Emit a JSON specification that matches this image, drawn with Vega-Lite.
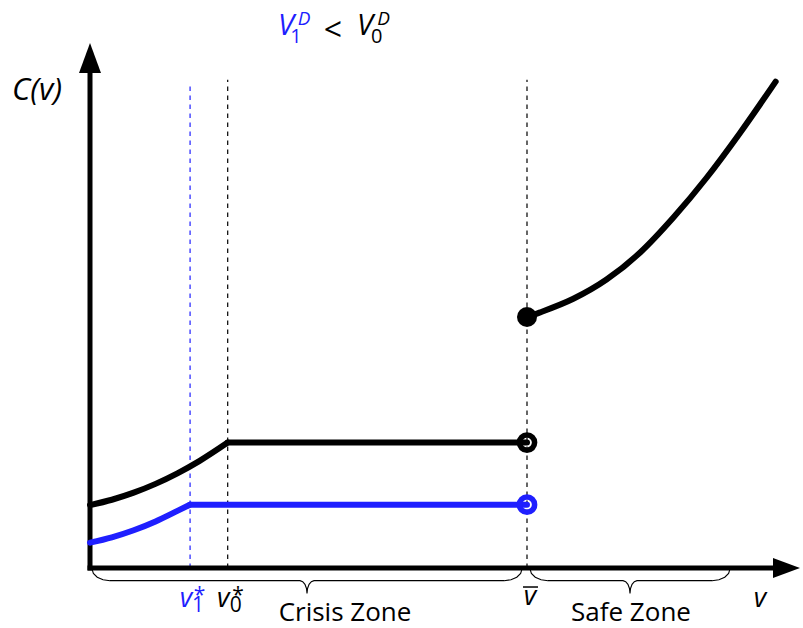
{
  "$schema": "https://vega.github.io/schema/vega-lite/v6.json",
  "width": 803,
  "height": 628,
  "autosize": {"type": "fit", "contains": "padding"},
  "padding": 0,
  "background": "white",
  "config": {"view": {"stroke": null}},
  "encoding": {
    "x": {"field": "x", "type": "quantitative", "scale": {"domain": [-2.0595, 16.3158], "nice": false, "zero": false}, "axis": null},
    "y": {"field": "y", "type": "quantitative", "scale": {"domain": [-1.373, 12.9977], "nice": false, "zero": false}, "axis": null},
    "color": {"field": "s", "type": "nominal", "scale": {"domain": ["k", "b"], "range": ["#000000", "#1f1fff"]}, "legend": null}
  },
  "layer": [
    {
      "data": {"values": [
        {"x": 2.29, "y": 0, "y2": 11.08, "s": "b"},
        {"x": 3.151, "y": 0, "y2": 11.17, "s": "k"},
        {"x": 10, "y": 0, "y2": 11.17, "s": "k"}
      ]},
      "mark": {"type": "rule", "strokeDash": [4.5, 4.5], "strokeWidth": 1.2},
      "encoding": {"y2": {"field": "y2"}}
    },
    {
      "data": {"values": [
        {"x": 0, "y": 0, "x2": 15.7, "y2": 0, "s": "k"},
        {"x": 0, "y": 0, "x2": 0, "y2": 11.33, "s": "k"}
      ]},
      "mark": {"type": "rule", "strokeWidth": 5, "strokeCap": "square"},
      "encoding": {"x2": {"field": "x2"}, "y2": {"field": "y2"}}
    },
    {
      "data": {"values": [{"x": 15.938, "y": 0, "s": "k"}]},
      "mark": {"type": "point", "shape": "M1,0L-1,0.74L-1,-0.74Z", "size": 729, "filled": true, "opacity": 1, "strokeWidth": 0}
    },
    {
      "data": {"values": [{"x": 0, "y": 11.67, "s": "k"}]},
      "mark": {"type": "point", "shape": "M0,-1L0.733,1L-0.733,1Z", "size": 900, "filled": true, "opacity": 1, "strokeWidth": 0}
    },
    {
      "data": {"values": [
        {"g": "k1", "s": "k", "x": 0, "y": 1.44},
        {"g": "k1", "s": "k", "x": 0.5, "y": 1.562},
        {"g": "k1", "s": "k", "x": 1, "y": 1.724},
        {"g": "k1", "s": "k", "x": 1.5, "y": 1.925},
        {"g": "k1", "s": "k", "x": 2, "y": 2.166},
        {"g": "k1", "s": "k", "x": 2.5, "y": 2.446},
        {"g": "k1", "s": "k", "x": 3.151, "y": 2.87},
        {"g": "k2", "s": "k", "x": 3.151, "y": 2.87},
        {"g": "k2", "s": "k", "x": 10, "y": 2.87},
        {"g": "b1", "s": "b", "x": 0, "y": 0.579},
        {"g": "b1", "s": "b", "x": 0.5, "y": 0.701},
        {"g": "b1", "s": "b", "x": 1, "y": 0.863},
        {"g": "b1", "s": "b", "x": 1.5, "y": 1.065},
        {"g": "b1", "s": "b", "x": 2, "y": 1.306},
        {"g": "b1", "s": "b", "x": 2.29, "y": 1.45},
        {"g": "b2", "s": "b", "x": 2.29, "y": 1.45},
        {"g": "b2", "s": "b", "x": 10, "y": 1.45},
        {"g": "u", "s": "k", "x": 10, "y": 5.744},
        {"g": "u", "s": "k", "x": 10.3, "y": 5.85},
        {"g": "u", "s": "k", "x": 11.06, "y": 6.16},
        {"g": "u", "s": "k", "x": 11.82, "y": 6.6},
        {"g": "u", "s": "k", "x": 12.59, "y": 7.22},
        {"g": "u", "s": "k", "x": 13.35, "y": 8.02},
        {"g": "u", "s": "k", "x": 14.11, "y": 8.93},
        {"g": "u", "s": "k", "x": 14.87, "y": 9.95},
        {"g": "u", "s": "k", "x": 15.69, "y": 11.13}
      ]},
      "mark": {"type": "line", "interpolate": "monotone", "strokeWidth": 6, "strokeCap": "round", "strokeJoin": "round"},
      "encoding": {"detail": {"field": "g"}}
    },
    {
      "data": {"values": [{"x": 10, "y": 5.744, "s": "k"}]},
      "mark": {"type": "point", "shape": "circle", "size": 400, "filled": true, "opacity": 1, "strokeWidth": 0}
    },
    {
      "data": {"values": [
        {"x": 10, "y": 2.87, "s": "k"},
        {"x": 10, "y": 1.45, "s": "b"}
      ]},
      "mark": {"type": "point", "shape": "circle", "size": 232, "filled": false, "opacity": 1, "strokeWidth": 5.5}
    },
    {
      "data": {"values": [
        {"g": "c", "i": 1, "s": "k", "x": 0.046, "y": -0.02},
        {"g": "c", "i": 2, "s": "k", "x": 0.077, "y": -0.123},
        {"g": "c", "i": 3, "s": "k", "x": 0.166, "y": -0.211},
        {"g": "c", "i": 4, "s": "k", "x": 0.299, "y": -0.269},
        {"g": "c", "i": 5, "s": "k", "x": 0.456, "y": -0.29},
        {"g": "c", "i": 6, "s": "k", "x": 4.806, "y": -0.29},
        {"g": "c", "i": 7, "s": "k", "x": 4.867, "y": -0.312},
        {"g": "c", "i": 8, "s": "k", "x": 4.919, "y": -0.375},
        {"g": "c", "i": 9, "s": "k", "x": 4.954, "y": -0.469},
        {"g": "c", "i": 10, "s": "k", "x": 4.966, "y": -0.58},
        {"g": "c", "i": 11, "s": "k", "x": 4.978, "y": -0.469},
        {"g": "c", "i": 12, "s": "k", "x": 5.013, "y": -0.375},
        {"g": "c", "i": 13, "s": "k", "x": 5.065, "y": -0.312},
        {"g": "c", "i": 14, "s": "k", "x": 5.126, "y": -0.29},
        {"g": "c", "i": 15, "s": "k", "x": 9.476, "y": -0.29},
        {"g": "c", "i": 16, "s": "k", "x": 9.633, "y": -0.269},
        {"g": "c", "i": 17, "s": "k", "x": 9.766, "y": -0.211},
        {"g": "c", "i": 18, "s": "k", "x": 9.855, "y": -0.123},
        {"g": "c", "i": 19, "s": "k", "x": 9.886, "y": -0.02},
        {"g": "f", "i": 1, "s": "k", "x": 10.069, "y": -0.02},
        {"g": "f", "i": 2, "s": "k", "x": 10.1, "y": -0.123},
        {"g": "f", "i": 3, "s": "k", "x": 10.189, "y": -0.211},
        {"g": "f", "i": 4, "s": "k", "x": 10.322, "y": -0.269},
        {"g": "f", "i": 5, "s": "k", "x": 10.479, "y": -0.29},
        {"g": "f", "i": 6, "s": "k", "x": 12.197, "y": -0.29},
        {"g": "f", "i": 7, "s": "k", "x": 12.258, "y": -0.312},
        {"g": "f", "i": 8, "s": "k", "x": 12.31, "y": -0.375},
        {"g": "f", "i": 9, "s": "k", "x": 12.345, "y": -0.469},
        {"g": "f", "i": 10, "s": "k", "x": 12.357, "y": -0.58},
        {"g": "f", "i": 11, "s": "k", "x": 12.369, "y": -0.469},
        {"g": "f", "i": 12, "s": "k", "x": 12.404, "y": -0.375},
        {"g": "f", "i": 13, "s": "k", "x": 12.456, "y": -0.312},
        {"g": "f", "i": 14, "s": "k", "x": 12.517, "y": -0.29},
        {"g": "f", "i": 15, "s": "k", "x": 14.235, "y": -0.29},
        {"g": "f", "i": 16, "s": "k", "x": 14.392, "y": -0.269},
        {"g": "f", "i": 17, "s": "k", "x": 14.525, "y": -0.211},
        {"g": "f", "i": 18, "s": "k", "x": 14.614, "y": -0.123},
        {"g": "f", "i": 19, "s": "k", "x": 14.645, "y": -0.02}
      ]},
      "mark": {"type": "line", "interpolate": "linear", "strokeWidth": 1.1},
      "encoding": {"detail": {"field": "g"}, "order": {"field": "i", "type": "quantitative"}}
    },
    {
      "data": {"values": [{"x": 9.908, "x2": 10.252, "y": -0.435, "s": "k"}]},
      "mark": {"type": "rule", "strokeWidth": 1.5},
      "encoding": {"x2": {"field": "x2"}}
    },
    {
      "data": {"values": [
        {"x": 4.485, "y": 12.197, "t": "V", "s": "b"},
        {"x": 6.293, "y": 12.197, "t": "V", "s": "k"}
      ]},
      "mark": {"type": "text", "font": "Open Sans", "fontStyle": "italic", "fontSize": 29, "align": "center", "baseline": "alphabetic"},
      "encoding": {"text": {"field": "t"}}
    },
    {
      "data": {"values": [
        {"x": -1.213, "y": 10.709, "t": "C(v)", "s": "k"}
      ]},
      "mark": {"type": "text", "font": "Open Sans", "fontStyle": "italic", "fontSize": 31, "align": "center", "baseline": "alphabetic"},
      "encoding": {"text": {"field": "t"}}
    },
    {
      "data": {"values": [
        {"x": 2.197, "y": -0.892, "t": "v", "s": "b"},
        {"x": 3.05, "y": -0.892, "t": "v", "s": "k"},
        {"x": 10.069, "y": -0.847, "t": "v", "s": "k"},
        {"x": 15.332, "y": -0.892, "t": "v", "s": "k"}
      ]},
      "mark": {"type": "text", "font": "Open Sans", "fontStyle": "italic", "fontSize": 27, "align": "center", "baseline": "alphabetic"},
      "encoding": {"text": {"field": "t"}}
    },
    {
      "data": {"values": [{"x": 5.561, "y": 12.066, "t": "<", "s": "k"}]},
      "mark": {"type": "text", "font": "Open Sans", "fontSize": 32, "align": "center", "baseline": "alphabetic"},
      "encoding": {"text": {"field": "t"}}
    },
    {
      "data": {"values": [
        {"x": 4.897, "y": 12.426, "t": "D", "s": "b"},
        {"x": 6.716, "y": 12.426, "t": "D", "s": "k"}
      ]},
      "mark": {"type": "text", "font": "Open Sans", "fontStyle": "italic", "fontSize": 19, "align": "center", "baseline": "alphabetic"},
      "encoding": {"text": {"field": "t"}}
    },
    {
      "data": {"values": [
        {"x": 4.714, "y": 12.014, "t": "1", "s": "b"},
        {"x": 6.561, "y": 12.014, "t": "0", "s": "k"}
      ]},
      "mark": {"type": "text", "font": "Open Sans", "fontSize": 20, "align": "center", "baseline": "alphabetic"},
      "encoding": {"text": {"field": "t"}}
    },
    {
      "data": {"values": [
        {"x": 2.472, "y": -1.0, "t": "1", "s": "b"},
        {"x": 3.337, "y": -1.007, "t": "0", "s": "k"},
        {"x": 2.506, "y": -0.77, "t": "*", "s": "b"},
        {"x": 3.387, "y": -0.77, "t": "*", "s": "k"}
      ]},
      "mark": {"type": "text", "font": "Open Sans", "fontSize": 21, "align": "center", "baseline": "alphabetic"},
      "encoding": {"text": {"field": "t"}}
    },
    {
      "data": {"values": [
        {"x": 5.835, "y": -1.213, "t": "Crisis Zone", "s": "k"},
        {"x": 12.38, "y": -1.213, "t": "Safe Zone", "s": "k"}
      ]},
      "mark": {"type": "text", "font": "Open Sans", "fontSize": 26, "align": "center", "baseline": "alphabetic"},
      "encoding": {"text": {"field": "t"}}
    }
  ]
}
